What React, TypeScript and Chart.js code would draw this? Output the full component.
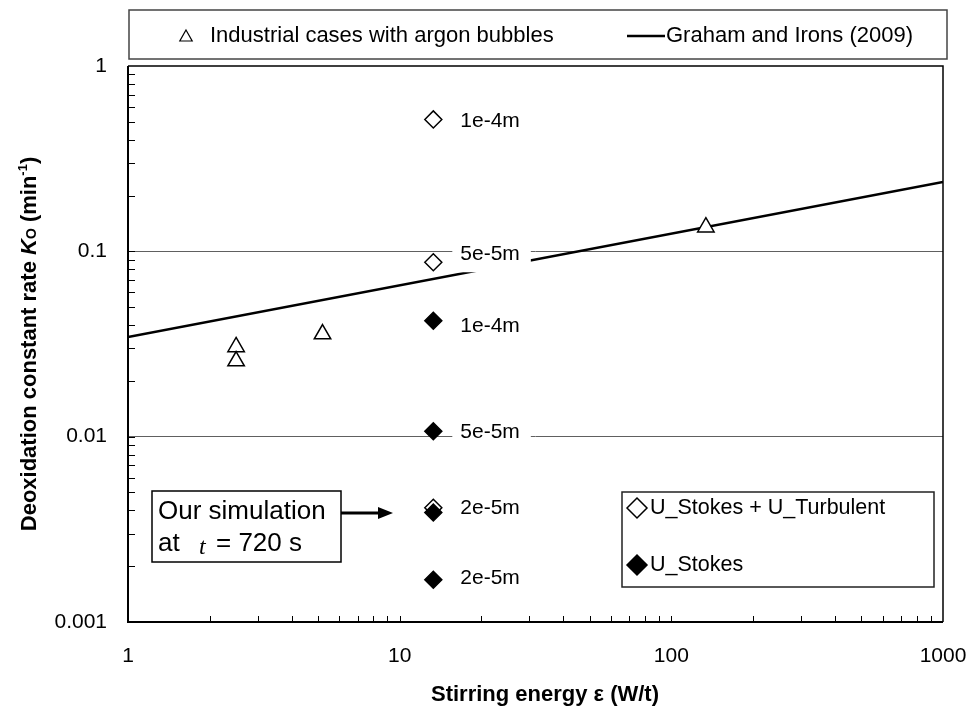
import React, { useEffect, useRef } from 'react';
import { Chart, registerables } from 'chart.js';

Chart.register(...registerables);

// ---- data ----
const industrialX = [2.5, 2.5, 5.2, 134];
const industrialY = [0.0305, 0.0256, 0.0358, 0.135];

const grahamX = [1, 1000];
const grahamY = [0.0345, 0.237];

const turbulentX = [13.3, 13.3, 13.3];
const turbulentY = [0.515, 0.0873, 0.00413];
const turbulentLabels = ['1e-4m', '5e-5m', ''];

const stokesX = [13.3, 13.3, 13.3, 13.3];
const stokesY = [0.0422, 0.0107, 0.0039, 0.00169];
const stokesLabels = ['1e-4m', '5e-5m', '2e-5m', '2e-5m'];

const xTickValues = [1, 10, 100, 1000];
const xTickLabels = ['1', '10', '100', '1000'];
const yTickValues = [0.001, 0.01, 0.1, 1];
const yTickLabels = ['0.001', '0.01', '0.1', '1'];
const gridValues = [0.01, 0.1];

const legendTop = ['Industrial cases with argon bubbles', 'Graham and Irons (2009)'];
const legendBottom = ['U_Stokes + U_Turbulent', 'U_Stokes'];
const xTitle = 'Stirring energy ε (W/t)';

// ---- styles (not data) ----
const FONT = "'Liberation Sans', Arial, sans-serif";
const SERIF = "'Liberation Serif', 'Times New Roman', serif";
const TURB_LABEL_DY = [2, -8, 0];
const STOKES_LABEL_DY = [5, 1, -4, -2];

function pts(xs: number[], ys: number[]) {
  return xs.map((x, i) => ({ x, y: ys[i] }));
}

function zeroPad(s: any) {
  s.paddingLeft = 0;
  s.paddingRight = 0;
  s.paddingTop = 0;
  s.paddingBottom = 0;
}

export default function App() {
  const ref = useRef<HTMLCanvasElement>(null);

  useEffect(() => {
    const canvas = ref.current!;

    const drawDiamond = (ctx: CanvasRenderingContext2D, x: number, y: number, r: number, filled: boolean) => {
      ctx.beginPath();
      ctx.moveTo(x - r, y);
      ctx.lineTo(x, y - r);
      ctx.lineTo(x + r, y);
      ctx.lineTo(x, y + r);
      ctx.closePath();
      ctx.fillStyle = filled ? '#000' : '#fff';
      ctx.fill();
      ctx.lineWidth = 1.5;
      ctx.strokeStyle = '#000';
      ctx.stroke();
    };

    const plugin = {
      id: 'customDecor',
      afterDatasetsDraw(chart: any) {
        const ctx: CanvasRenderingContext2D = chart.ctx;
        const xs = chart.scales.x;
        const ys = chart.scales.y;
        const drawLabel = (text: string, px: number, py: number) => {
          if (!text) return;
          ctx.save();
          ctx.font = `21px ${FONT}`;
          const w = ctx.measureText(text).width;
          ctx.fillStyle = '#fff';
          ctx.fillRect(px - 8, py - 18, w + 19, 36);
          ctx.fillStyle = '#000';
          ctx.textAlign = 'left';
          ctx.textBaseline = 'middle';
          ctx.fillText(text, px, py);
          ctx.restore();
        };
        turbulentX.forEach((x, i) => {
          drawLabel(turbulentLabels[i], xs.getPixelForValue(x) + 27, ys.getPixelForValue(turbulentY[i]) + TURB_LABEL_DY[i]);
        });
        stokesX.forEach((x, i) => {
          drawLabel(stokesLabels[i], xs.getPixelForValue(x) + 27, ys.getPixelForValue(stokesY[i]) + STOKES_LABEL_DY[i]);
        });
      },
      afterDraw(chart: any) {
        const ctx: CanvasRenderingContext2D = chart.ctx;
        const { left, right, top, bottom } = chart.chartArea;
        const xs = chart.scales.x;
        const ys = chart.scales.y;
        ctx.save();

        // minor ticks (inside)
        ctx.strokeStyle = '#000';
        ctx.lineWidth = 1;
        for (let e = -3; e < 0; e++) {
          for (let m = 1; m <= 9; m++) {
            const v = m * Math.pow(10, e);
            const py = Math.round(ys.getPixelForValue(v)) + 0.5;
            ctx.beginPath();
            ctx.moveTo(left, py);
            ctx.lineTo(left + 7, py);
            ctx.stroke();
          }
        }
        for (let e = 0; e < 3; e++) {
          for (let m = 1; m <= 9; m++) {
            const v = m * Math.pow(10, e);
            const px = Math.round(xs.getPixelForValue(v)) + 0.5;
            ctx.beginPath();
            ctx.moveTo(px, bottom);
            ctx.lineTo(px, bottom - 6);
            ctx.stroke();
          }
        }

        // plot border
        ctx.strokeStyle = '#000';
        ctx.lineWidth = 1.5;
        ctx.beginPath();
        ctx.moveTo(left, top);
        ctx.lineTo(right, top);
        ctx.lineTo(right, bottom);
        ctx.stroke();
        ctx.lineWidth = 2;
        ctx.beginPath();
        ctx.moveTo(left, top);
        ctx.lineTo(left, bottom);
        ctx.lineTo(right, bottom);
        ctx.stroke();

        // top legend
        ctx.lineWidth = 1.5;
        ctx.strokeStyle = '#444';
        ctx.strokeRect(129, 10, 818, 49);
        ctx.beginPath();
        ctx.moveTo(186, 30);
        ctx.lineTo(192.2, 41);
        ctx.lineTo(179.8, 41);
        ctx.closePath();
        ctx.fillStyle = '#fff';
        ctx.fill();
        ctx.strokeStyle = '#000';
        ctx.lineWidth = 1.2;
        ctx.stroke();
        ctx.font = `22px ${FONT}`;
        ctx.fillStyle = '#000';
        ctx.textBaseline = 'middle';
        ctx.textAlign = 'left';
        ctx.fillText(legendTop[0], 210, 36);
        ctx.lineWidth = 2.5;
        ctx.beginPath();
        ctx.moveTo(627, 36);
        ctx.lineTo(665, 36);
        ctx.stroke();
        ctx.fillText(legendTop[1], 666, 36);

        // bottom-right legend
        ctx.lineWidth = 1.5;
        ctx.strokeStyle = '#222';
        ctx.strokeRect(622, 492, 312, 95);
        drawDiamond(ctx, 637, 508, 10, false);
        drawDiamond(ctx, 637, 565, 10, true);
        ctx.font = `21.5px ${FONT}`;
        ctx.fillStyle = '#000';
        ctx.textBaseline = 'middle';
        ctx.fillText(legendBottom[0], 650, 508);
        ctx.fillText(legendBottom[1], 650, 565);

        // simulation annotation
        ctx.lineWidth = 1.5;
        ctx.strokeStyle = '#000';
        ctx.strokeRect(152, 491, 189, 71);
        ctx.font = `26px ${FONT}`;
        ctx.fillStyle = '#000';
        ctx.textBaseline = 'middle';
        ctx.fillText('Our simulation', 158, 512);
        ctx.fillText('at', 158, 544);
        ctx.font = `italic 24px ${SERIF}`;
        ctx.fillText('t', 199, 548);
        ctx.font = `26px ${FONT}`;
        ctx.fillText('= 720 s', 216, 544);
        ctx.lineWidth = 3;
        ctx.beginPath();
        ctx.moveTo(341, 513);
        ctx.lineTo(382, 513);
        ctx.stroke();
        ctx.beginPath();
        ctx.moveTo(378, 507);
        ctx.lineTo(393, 513);
        ctx.lineTo(378, 519);
        ctx.closePath();
        ctx.fill();

        // x title
        ctx.font = `bold 22px ${FONT}`;
        ctx.textAlign = 'center';
        ctx.textBaseline = 'middle';
        ctx.fillText(xTitle, 545, 695);

        // y title (rich text, rotated)
        const pieces: [string, string, number][] = [
          ['Deoxidation constant rate ', `bold 22px ${FONT}`, 0],
          ['K', `italic bold 22px ${FONT}`, 0],
          ['O', `bold 14px ${FONT}`, 0],
          [' (min', `bold 22px ${FONT}`, 0],
          ['-1', `bold 13px ${FONT}`, -9],
          [')', `bold 22px ${FONT}`, 0],
        ];
        ctx.translate(28, (top + bottom) / 2);
        ctx.rotate(-Math.PI / 2);
        ctx.textAlign = 'left';
        ctx.textBaseline = 'alphabetic';
        let total = 0;
        const widths = pieces.map(([t, f]) => {
          ctx.font = f;
          const w = ctx.measureText(t).width;
          total += w;
          return w;
        });
        let cx = -total / 2;
        pieces.forEach(([t, f, dy], i) => {
          ctx.font = f;
          ctx.fillText(t, cx, 8 + dy);
          cx += widths[i];
        });
        ctx.restore();
      },
    };

    const chart = new Chart(canvas, {
      type: 'scatter',
      data: {
        datasets: [
          {
            label: 'U_Stokes',
            data: pts(stokesX, stokesY),
            pointStyle: 'rectRot',
            pointRadius: 8.5,
            backgroundColor: '#000',
            borderColor: '#000',
            borderWidth: 1.5,
          },
          {
            label: 'U_Stokes + U_Turbulent',
            data: pts(turbulentX, turbulentY),
            pointStyle: 'rectRot',
            pointRadius: 8.5,
            backgroundColor: '#fff',
            borderColor: '#000',
            borderWidth: 1.5,
          },
          {
            label: 'Industrial cases with argon bubbles',
            data: pts(industrialX, industrialY),
            pointStyle: 'triangle',
            pointRadius: 9.5,
            backgroundColor: '#fff',
            borderColor: '#000',
            borderWidth: 1.5,
          },
          {
            label: 'Graham and Irons (2009)',
            type: 'line',
            data: pts(grahamX, grahamY),
            borderColor: '#000',
            borderWidth: 2.5,
            pointRadius: 0,
            fill: false,
          } as any,
        ],
      },
      options: {
        responsive: false,
        animation: false,
        events: [],
        layout: { padding: { top: 66, right: 28, left: 0, bottom: 0 } },
        plugins: { legend: { display: false }, tooltip: { enabled: false } },
        scales: {
          x: {
            type: 'logarithmic',
            min: 1,
            max: 1000,
            afterBuildTicks: (s: any) => {
              s.ticks = xTickValues.map((v) => ({ value: v }));
            },
            afterFit: (s: any) => {
              s.height = 85;
              zeroPad(s);
            },
            grid: { display: false, drawTicks: false },
            border: { display: false },
            ticks: {
              autoSkip: false,
              maxRotation: 0,
              padding: 22,
              color: '#000',
              font: { family: FONT, size: 21 },
              callback: (v: any) => xTickLabels[xTickValues.indexOf(Number(v))] ?? '',
            },
          },
          y: {
            type: 'logarithmic',
            min: 0.001,
            max: 1,
            afterBuildTicks: (s: any) => {
              s.ticks = yTickValues.map((v) => ({ value: v }));
            },
            afterFit: (s: any) => {
              s.width = 128;
              zeroPad(s);
            },
            grid: {
              drawTicks: false,
              lineWidth: 1,
              color: (c: any) => (gridValues.includes(c.tick?.value) ? '#606060' : 'rgba(0,0,0,0)'),
            },
            border: { display: false },
            ticks: {
              autoSkip: false,
              padding: 21,
              color: '#000',
              font: { family: FONT, size: 21 },
              callback: (v: any) => yTickLabels[yTickValues.indexOf(Number(v))] ?? '',
            },
          },
        },
      } as any,
      plugins: [plugin],
    });

    return () => chart.destroy();
  }, []);

  return (
    <div style={{ position: 'absolute', left: 0, top: 0, width: 971, height: 707, background: '#fff' }}>
      <canvas ref={ref} width={971} height={707} style={{ display: 'block' }} />
    </div>
  );
}
